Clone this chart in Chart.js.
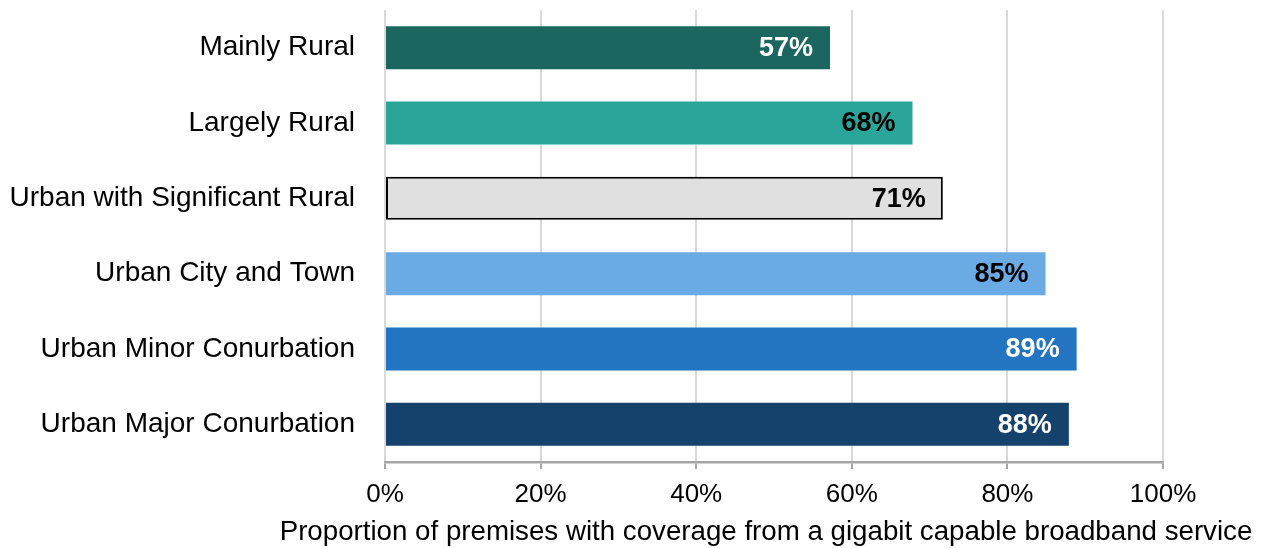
<!DOCTYPE html>
<html>
<head>
<meta charset="utf-8">
<script src="https://cdn.jsdelivr.net/npm/chart.js@4"></script>
<style>
  body { margin: 0; background: #fff; }
  #wrap { width: 1264px; height: 548px; }
</style>
</head>
<body>
<div id="wrap"><canvas id="canvas-coverage" width="1264" height="548"></canvas></div>
<script>
// categories and values
const categories = ['Mainly Rural', 'Largely Rural', 'Urban with Significant Rural', 'Urban City and Town', 'Urban Minor Conurbation', 'Urban Major Conurbation'];
const coverage = [57.2, 67.8, 71.7, 84.9, 88.9, 87.9];
const valueLabels = ['57%', '68%', '71%', '85%', '89%', '88%'];
const barColours = ['#1b665f', '#2aa59a', '#e0e0e0', '#6aabe5', '#2374c1', '#15426c'];
const labelColours = ['#fff', '#000', '#000', '#000', '#fff', '#fff'];
const xTicks = [0, 20, 40, 60, 80, 100];
const xTitle = 'Proportion of premises with coverage from a gigabit capable broadband service';

const fontFamily = '"Liberation Sans", Arial, sans-serif';

// writes the percentage inside the end of every bar
const barValueLabels = {
    id: 'barValueLabels',
    afterDatasetsDraw(chart) {
        const ctx = chart.ctx;
        const meta = chart.getDatasetMeta(0);
        ctx.save();
        ctx.font = 'bold 27px ' + fontFamily;
        ctx.textAlign = 'right';
        ctx.textBaseline = 'middle';
        meta.data.forEach((bar, i) => {
            ctx.fillStyle = labelColours[i];
            ctx.fillText(valueLabels[i], bar.x - 17, bar.y + 1);
        });
        ctx.restore();
    }
};

// axis title is wider than the plot, so it is drawn by hand (the scale title would squeeze it)
const xAxisTitle = {
    id: 'xAxisTitle',
    afterDraw(chart) {
        const ctx = chart.ctx;
        ctx.save();
        ctx.font = '27.7px ' + fontFamily;
        ctx.fillStyle = '#000';
        ctx.textAlign = 'center';
        ctx.textBaseline = 'middle';
        ctx.fillText(xTitle, 766, 532);
        ctx.restore();
    }
};

const ctx = document.getElementById('canvas-coverage').getContext('2d');
const myChartCoverage = new Chart(ctx, {
    type: 'bar',
    data: {
        labels: categories,
        datasets: [{
            data: coverage,
            backgroundColor: barColours,
            borderColor: '#000',
            borderWidth: [0, 0, 2, 0, 0, 0],
            borderSkipped: false,
            categoryPercentage: 1,
            barPercentage: 0.57
        }]
    },
    options: {
        indexAxis: 'y',
        responsive: false,
        animation: false,
        layout: { padding: { top: 10, right: 101, bottom: 0, left: 0 } },
        plugins: {
            legend: { display: false },
            tooltip: { enabled: false }
        },
        scales: {
            x: {
                min: 0,
                max: 100,
                afterBuildTicks: (scale) => { scale.ticks = xTicks.map(v => ({ value: v })); },
                afterFit: (scale) => { scale.height = 86; scale.paddingLeft = 0; scale.paddingRight = 0; },
                grid: { color: '#d9d9d9', lineWidth: 2, tickColor: '#a6a6a6', tickLength: 7 },
                border: { color: '#a6a6a6', width: 2.5 },
                ticks: {
                    padding: 10,
                    color: '#000',
                    font: { family: fontFamily, size: 26 },
                    callback: (v) => v + '%'
                }
            },
            y: {
                afterFit: (scale) => { scale.width = 385; scale.paddingTop = 0; scale.paddingBottom = 0; },
                grid: { display: false },
                border: { display: false },
                ticks: {
                    padding: 22,
                    color: '#000',
                    font: { family: fontFamily, size: 28 }
                }
            }
        }
    },
    plugins: [barValueLabels, xAxisTitle]
});
</script>
</body>
</html>
